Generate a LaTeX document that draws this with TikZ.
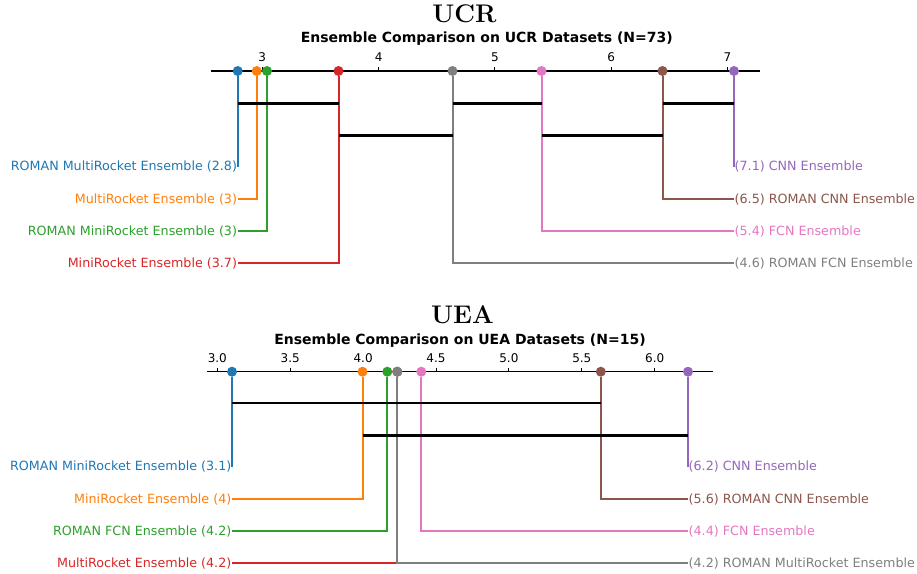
\documentclass[tikz,border=0pt]{standalone}
\usepackage{fontspec}
\setsansfont{DejaVu Sans}
\usetikzlibrary{positioning,calc}
\definecolor{tabblue}{HTML}{1F77B4}
\definecolor{taborange}{HTML}{FF7F0E}
\definecolor{tabgreen}{HTML}{2CA02C}
\definecolor{tabred}{HTML}{D62728}
\definecolor{tabpurple}{HTML}{9467BD}
\definecolor{tabbrown}{HTML}{8C564B}
\definecolor{tabpink}{HTML}{E377C2}
\definecolor{tabgray}{HTML}{7F7F7F}

\begin{document}
\begin{tikzpicture}[x=1pt,y=-1pt,
    rank/.style={circle, fill=#1, inner sep=0pt, minimum size=10pt},
    stem/.style={#1, line width=2pt},
    method/.style={#1, font=\sffamily\fontsize{12.7}{15}\selectfont, inner sep=0.5pt},
    cd/.style={black, line width=2.4pt},
    axisline/.style={black, line width=1.5pt},
    ticklab/.style={font=\sffamily\fontsize{12}{14}\selectfont, anchor=base, inner sep=0pt},
    plottitle/.style={font=\rmfamily\bfseries\fontsize{25.5}{30}\selectfont, anchor=base, inner sep=0pt},
    subtitle/.style={font=\sffamily\bfseries\fontsize{14}{17}\selectfont, anchor=base, inner sep=0pt}]
  \useasboundingbox (0,0) rectangle (917,573);

  % UCR axis
  \node[plottitle] (ucrT) at (464.5,22.8) {UCR};
  \node[subtitle] (ucrS) at (486.8,42.9) {Ensemble Comparison on UCR Datasets (N=73)};
  \draw[axisline] (211,71) -- (760,71);
  \foreach \v/\x in {3/262.3,4/378.6,5/494.9,6/611.2,7/727.5}{
    \draw[line width=1pt] (\x,71) -- (\x,67);
    \node[ticklab] at (\x,61.3) {\v};
  }

  % UCR ranks, left side
  \node[rank=tabblue] (uRMR) at (237.7,71) {};
  \node[rank=taborange] (uMR) at (256.7,71) {};
  \node[rank=tabgreen] (uRMini) at (267,71) {};
  \node[rank=tabred] (uMini) at (338.5,71) {};
  \node[method=tabblue, anchor=east] (uRMRl) at (237.7,167) {ROMAN MultiRocket Ensemble (2.8)};
  \node[method=taborange, anchor=east] (uMRl) at (237.7,199.2) {MultiRocket Ensemble (3)};
  \node[method=tabgreen, anchor=east] (uRMinil) at (237.7,231.3) {ROMAN MiniRocket Ensemble (3)};
  \node[method=tabred, anchor=east] (uMinil) at (237.7,263.4) {MiniRocket Ensemble (3.7)};
  \draw[stem=tabblue] (uRMR) |- (uRMRl.east);
  \draw[stem=taborange] (uMR) |- (uMRl.east);
  \draw[stem=tabgreen] (uRMini) |- (uRMinil.east);
  \draw[stem=tabred] (uMini) |- (uMinil.east);

  % UCR ranks, right side
  \node[rank=tabgray] (uRFCN) at (452.5,71) {};
  \node[rank=tabpink] (uFCN) at (541.5,71) {};
  \node[rank=tabbrown] (uRCNN) at (662.5,71) {};
  \node[rank=tabpurple] (uCNN) at (734,71) {};
  \node[method=tabpurple, anchor=west] (uCNNl) at (734,167) {(7.1) CNN Ensemble};
  \node[method=tabbrown, anchor=west] (uRCNNl) at (734,199.2) {(6.5) ROMAN CNN Ensemble};
  \node[method=tabpink, anchor=west] (uFCNl) at (734,231.3) {(5.4) FCN Ensemble};
  \node[method=tabgray, anchor=west] (uRFCNl) at (734,263.4) {(4.6) ROMAN FCN Ensemble};
  \draw[stem=tabpurple] (uCNN) |- (uCNNl.west);
  \draw[stem=tabbrown] (uRCNN) |- (uRCNNl.west);
  \draw[stem=tabpink] (uFCN) |- (uFCNl.west);
  \draw[stem=tabgray] (uRFCN) |- (uRFCNl.west);

  % UCR cliques
  \draw[cd] ($(uRMR)+(0,32.3)$) -- ($(uMini)+(0,32.3)$);
  \draw[cd] ($(uRFCN)+(0,32.3)$) -- ($(uFCN)+(0,32.3)$);
  \draw[cd] ($(uRCNN)+(0,32.3)$) -- ($(uCNN)+(0,32.3)$);
  \draw[cd] ($(uMini)+(0,64.3)$) -- ($(uRFCN)+(0,64.3)$);
  \draw[cd] ($(uFCN)+(0,64.3)$) -- ($(uRCNN)+(0,64.3)$);

  % UEA axis
  \node[plottitle] (ueaT) at (462.4,323.7) {UEA};
  \node[subtitle] (ueaS) at (460,344) {Ensemble Comparison on UEA Datasets (N=15)};
  \draw[axisline] (207.3,371.7) -- (713,371.7);
  \foreach \v/\x in {3.0/217.3,3.5/290.2,4.0/363.1,4.5/436,5.0/508.9,5.5/581.8,6.0/654.7}{
    \draw[line width=1pt] (\x,371.7) -- (\x,367.7);
    \node[ticklab] at (\x,362) {\v};
  }

  % UEA ranks, left side
  \node[rank=tabblue] (eRMini) at (232,371.7) {};
  \node[rank=taborange] (eMini) at (362.5,371.7) {};
  \node[rank=tabgreen] (eRFCN) at (387.3,371.7) {};
  \node[rank=tabred] (eMR) at (397.3,371.7) {};
  \node[method=tabblue, anchor=east] (eRMinil) at (232,467) {ROMAN MiniRocket Ensemble (3.1)};
  \node[method=taborange, anchor=east] (eMinil) at (232,499.2) {MiniRocket Ensemble (4)};
  \node[method=tabgreen, anchor=east] (eRFCNl) at (232,531.3) {ROMAN FCN Ensemble (4.2)};
  \node[method=tabred, anchor=east] (eMRl) at (232,563.4) {MultiRocket Ensemble (4.2)};
  \draw[stem=tabblue] (eRMini) |- (eRMinil.east);
  \draw[stem=taborange] (eMini) |- (eMinil.east);
  \draw[stem=tabgreen] (eRFCN) |- (eRFCNl.east);
  \draw[stem=tabred] (eMR) |- (eMRl.east);

  % UEA ranks, right side
  \node[rank=tabgray] (eRMR) at (397.3,371.7) {};
  \node[rank=tabpink] (eFCN) at (421.3,371.7) {};
  \node[rank=tabbrown] (eRCNN) at (600.8,371.7) {};
  \node[rank=tabpurple] (eCNN) at (688,371.7) {};
  \node[method=tabpurple, anchor=west] (eCNNl) at (688,467) {(6.2) CNN Ensemble};
  \node[method=tabbrown, anchor=west] (eRCNNl) at (688,499.2) {(5.6) ROMAN CNN Ensemble};
  \node[method=tabpink, anchor=west] (eFCNl) at (688,531.3) {(4.4) FCN Ensemble};
  \node[method=tabgray, anchor=west] (eRMRl) at (688,563.4) {(4.2) ROMAN MultiRocket Ensemble};
  \draw[stem=tabpurple] (eCNN) |- (eCNNl.west);
  \draw[stem=tabbrown] (eRCNN) |- (eRCNNl.west);
  \draw[stem=tabpink] (eFCN) |- (eFCNl.west);
  \draw[stem=tabgray] (eRMR) |- (eRMRl.west);

  % UEA cliques
  \draw[cd] ($(eRMini)+(0,31.3)$) -- ($(eRCNN)+(0,31.3)$);
  \draw[cd] ($(eMini)+(0,63.6)$) -- ($(eCNN)+(0,63.6)$);
\end{tikzpicture}
\end{document}
